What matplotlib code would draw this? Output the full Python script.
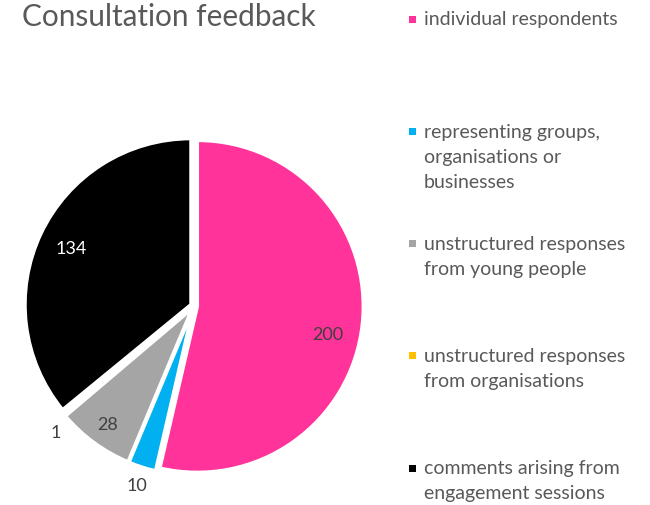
import matplotlib
matplotlib.use("Agg")
import matplotlib.pyplot as plt
import numpy as np

plt.rcParams['font.family'] = ['Lato', 'DejaVu Sans']

title = "Consultation feedback"
categories = [
    "individual respondents",
    "representing groups,\norganisations or\nbusinesses",
    "unstructured responses\nfrom young people",
    "unstructured responses\nfrom organisations",
    "comments arising from\nengagement sessions",
]
values = [200, 10, 28, 1, 134]
colors = ["#FF3399", "#00B0F0", "#A5A5A5", "#FFC000", "#000000"]
label_colors = ["#404040", "#404040", "#404040", "#404040", "#FFFFFF"]
label_dist = [0.825, 1.13, 0.88, 1.13, 0.82]
label_angle_offset = [-5.3, 0, 0, 2.5, 0]

W, H = 650, 506
fig = plt.figure(figsize=(W / 100, H / 100), dpi=100)

# pie axes: center (194, 307) px, radius 166 px
cx, cy, R = 194, 307, 166
half = 200
ax = fig.add_axes([(cx - half) / W, (H - cy - half) / H, 2 * half / W, 2 * half / H])

wedges, _ = ax.pie(values, colors=colors, startangle=90, counterclock=False,
                   explode=[0.02] * len(values), radius=1,
                   wedgeprops=dict(edgecolor='white', linewidth=2.5))
lim = half / R
ax.set_xlim(-lim, lim)
ax.set_ylim(-lim, lim)
ax.set_aspect('equal')
ax.axis('off')

for w, v, lc, d, off in zip(wedges, values, label_colors, label_dist, label_angle_offset):
    ang = np.deg2rad((w.theta1 + w.theta2) / 2 + off)
    ax.text(d * np.cos(ang), d * np.sin(ang), str(v), color=lc,
            fontsize=13, ha='center', va='center')

fig.text(22 / W, 1 - 17 / H, title, fontsize=21.4, color='#595959',
         ha='left', va='center')

# legend
y0, step, lsp = 20, 112.25, 25
for i, (lab, col) in enumerate(zip(categories, colors)):
    yc = y0 + i * step
    fig.patches.append(plt.Rectangle(((409) / W, 1 - (yc + 3.5) / H), 7 / W, 7 / H,
                                     transform=fig.transFigure, facecolor=col,
                                     edgecolor='none'))
    for j, line in enumerate(lab.split("\n")):
        fig.text(424 / W, 1 - (yc + j * lsp) / H, line, fontsize=14,
                 color='#595959', ha='left', va='center')

fig.savefig("out.png", dpi=100)
